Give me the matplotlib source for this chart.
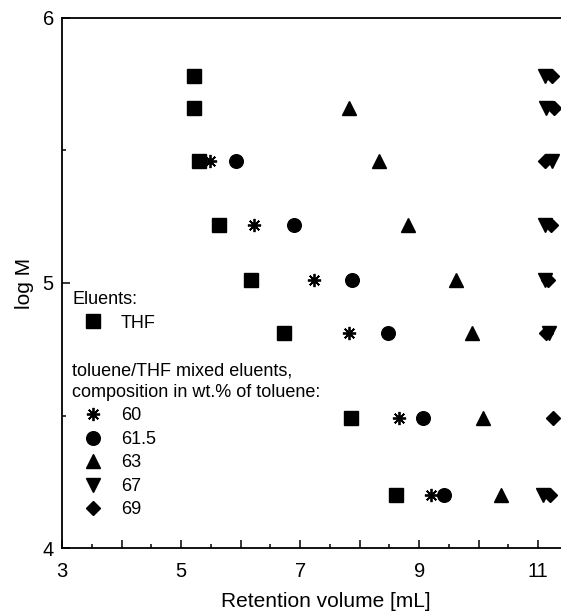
import numpy as np
import matplotlib
matplotlib.use("Agg")
import matplotlib.pyplot as plt
from matplotlib.ticker import MultipleLocator, FuncFormatter

plt.rcParams['font.family'] = ['Liberation Sans', 'DejaVu Sans']

nan = np.nan
log_m = [5.78, 5.66, 5.46, 5.22, 5.01, 4.81, 4.49, 4.20]
ve_thf = [5.21, 5.22, 5.30, 5.63, 6.18, 6.72, 7.85, 8.61]
ve_60 = [nan, nan, 5.48, 6.23, 7.24, 7.82, 8.66, 9.20]
ve_615 = [nan, nan, 5.92, 6.90, 7.87, 8.47, 9.07, 9.41]
ve_63 = [nan, 7.82, 8.33, 8.82, 9.62, 9.89, 10.08, 10.38]
ve_67 = [11.12, 11.13, 11.23, 11.12, 11.12, 11.18, nan, 11.08]
ve_69 = [11.23, 11.26, 11.11, 11.22, 11.17, 11.13, 11.25, 11.19]

W, H = 561, 612
fig = plt.figure(figsize=(W / 100, H / 100), dpi=100)
left_px, bottom_px, top_px = 62.2, 548.3, 17.7
unit_px = 59.5
ax = fig.add_axes([left_px / W, 1 - bottom_px / H, 9 * unit_px / W, (bottom_px - top_px) / H])

ms = dict(color='black', linestyle='none')
h_thf, = ax.plot(ve_thf, log_m, marker='s', markersize=9.5, label='THF', **ms)
h60, = ax.plot(ve_60, log_m, marker=(8, 2, 0), markersize=9.5, markeredgewidth=1.3, label='60', **ms)
h615, = ax.plot(ve_615, log_m, marker='o', markersize=9.8, label='61.5', **ms)
h63, = ax.plot(ve_63, log_m, marker='^', markersize=10.5, label='63', **ms)
h67, = ax.plot(ve_67, log_m, marker='v', markersize=10.5, label='67', **ms)
h69, = ax.plot(ve_69, log_m, marker='D', markersize=7.6, label='69', **ms)

ax.set_xlim(3, 12)
ax.set_ylim(4, 6)
ax.spines['right'].set_visible(False)
for s in ['left', 'bottom', 'top']:
    ax.spines[s].set_linewidth(1.3)

ax.xaxis.set_major_locator(MultipleLocator(1))
ax.xaxis.set_minor_locator(MultipleLocator(0.5))
ax.yaxis.set_major_locator(MultipleLocator(1))
ax.yaxis.set_minor_locator(MultipleLocator(0.5))
ax.xaxis.set_major_formatter(FuncFormatter(lambda v, p: f"{v:.0f}" if int(round(v)) % 2 == 1 else ""))
ax.tick_params(which='major', direction='in', length=5.5, width=1.1, labelsize=14.5)
ax.tick_params(which='minor', direction='in', length=3, width=1.1)
ax.tick_params(axis='x', which='both', top=False, pad=10)
ax.tick_params(axis='y', which='both', right=False, pad=6)

ax.set_xlabel('Retention volume [mL]', fontsize=15)
ax.set_ylabel('log M', fontsize=15)
ax.xaxis.set_label_coords(0.4917, -0.082)
ax.yaxis.set_label_coords(-0.052, 0.5)

fs = 13
common = dict(frameon=False, fontsize=fs, title_fontsize=fs, borderpad=0, borderaxespad=0,
              handlelength=2.3, handletextpad=0.4, labelspacing=0.36, numpoints=1,
              alignment='left', loc='upper left', bbox_transform=fig.transFigure)
leg1 = ax.legend(handles=[h_thf], title='Eluents:', bbox_to_anchor=(72 / W, 1 - 291 / H), **common)
ax.add_artist(leg1)
leg2 = ax.legend(handles=[h60, h615, h63, h67, h69],
                 title='toluene/THF mixed eluents,\ncomposition in wt.% of toluene:',
                 bbox_to_anchor=(72 / W, 1 - 362 / H), **common)
leg2.get_title().set_linespacing(1.38)

fig.savefig('out.png', dpi=100)
